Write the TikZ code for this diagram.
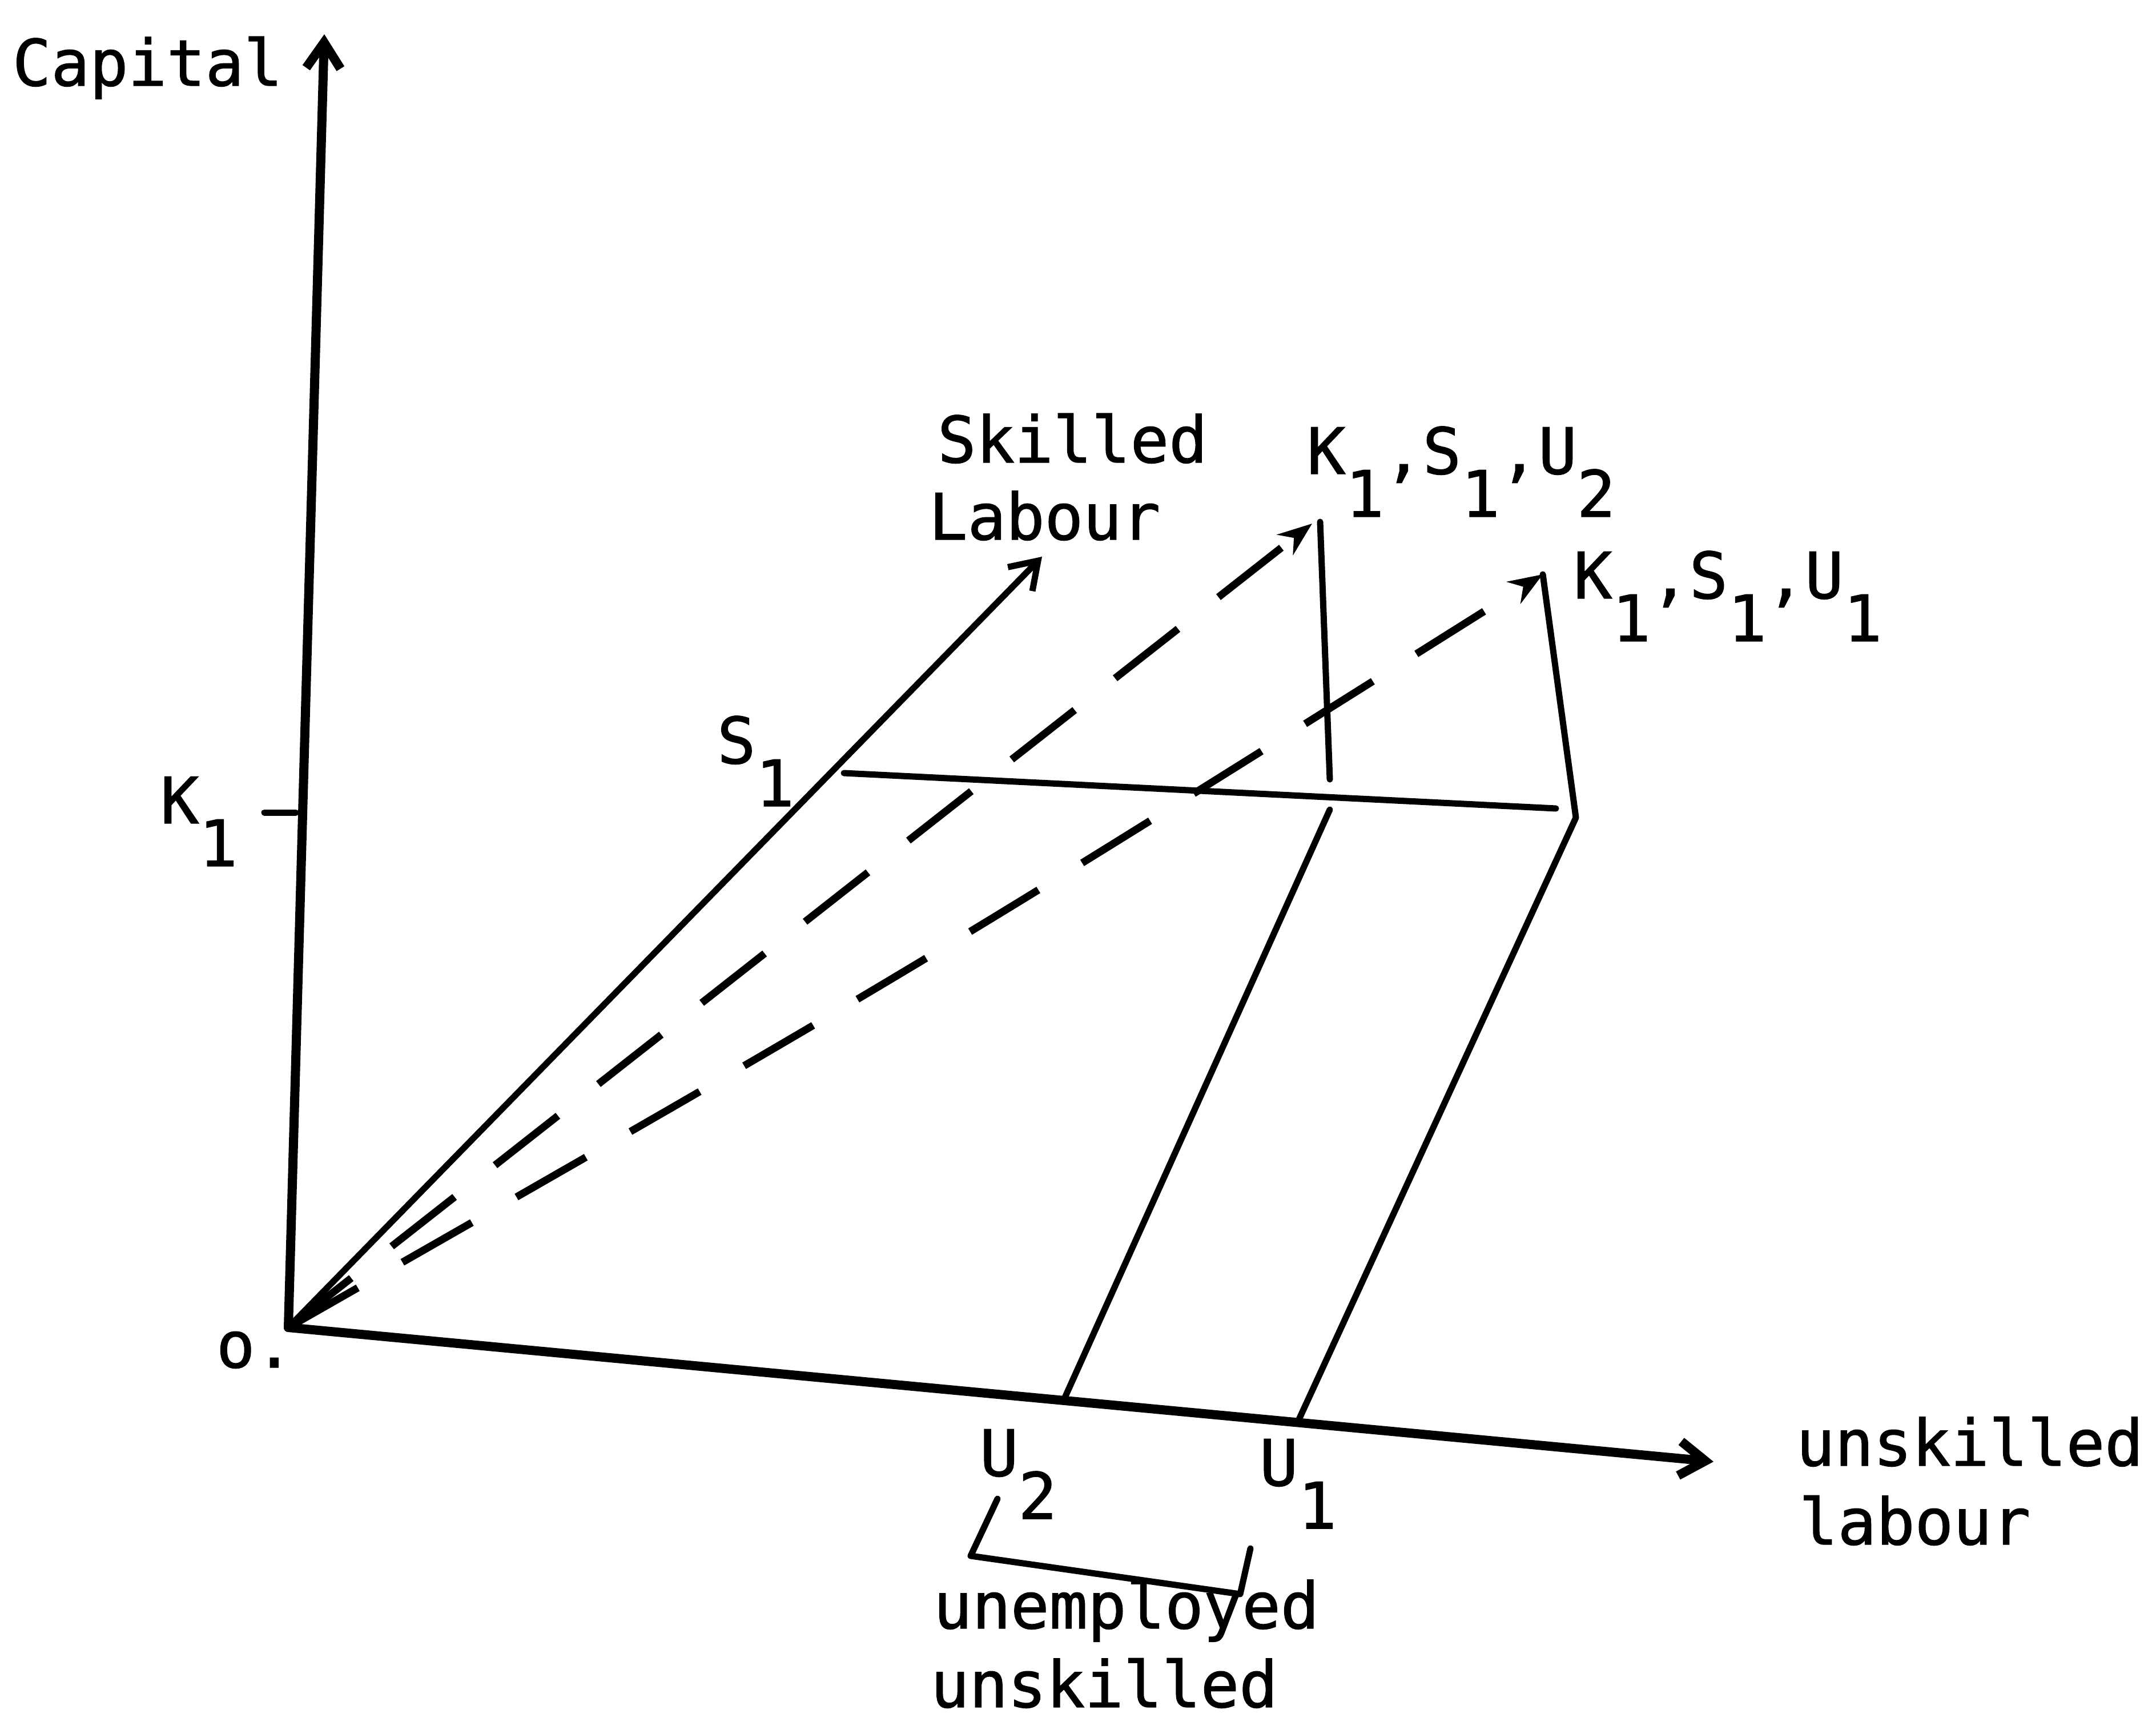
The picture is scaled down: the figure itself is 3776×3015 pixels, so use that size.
\documentclass[tikz,border=0pt]{standalone}
\usepackage{fontspec}
\setmainfont[FakeBold=1.2]{DejaVu Sans Mono}
\usetikzlibrary{arrows.meta}
\newcommand{\lowr}[1]{\raisebox{-0.75cm}{#1}}
\begin{document}
\begin{tikzpicture}[x=0.01cm,y=-0.01cm,
  lbl/.style={anchor=base west, inner sep=0pt, outer sep=0pt, font=\fontsize{31.9pt}{38.4pt}\selectfont},
  axisln/.style={line width=0.16cm, line cap=round, line join=round},
  thinln/.style={line width=0.11cm, line cap=round, line join=round},
  dsh/.style={line width=0.13cm, dash pattern=on 1.4cm off 0.9cm},
  barb/.style={-{Straight Barb[length=0.45cm,width=0.6cm]}},
  tipd/.style={-{Stealth[length=0.6cm,width=0.45cm]}}]
\useasboundingbox (0,0) rectangle (3776,3015);
% points
\coordinate (O) at (505,2325);
\coordinate (Ktop) at (568,60);
\coordinate (Stop) at (1825,975);
\coordinate (Uend) at (3001,2560);
\coordinate (S1) at (1478,1354);
\coordinate (Hend) at (2725,1416);
\coordinate (P2) at (2312,914);
\coordinate (P2t) at (2298,917);
\coordinate (C2a) at (2329,1365);
\coordinate (C2b) at (2329,1418);
\coordinate (U2f) at (1863,2452);
\coordinate (P1) at (2702,1006);
\coordinate (C1) at (2760,1432);
\coordinate (U1f) at (2274,2488);
\coordinate (K1a) at (463,1423);
\coordinate (K1b) at (518,1423);
\coordinate (B1) at (1747,2625);
\coordinate (B2) at (1700,2725);
\coordinate (B3) at (2172,2792);
\coordinate (B4) at (2190,2712);
\coordinate (Ctl) at (1602,1698);
% axes
\draw[axisln,barb] (O) -- (Ktop);
\draw[axisln,barb] (O) -- (Uend);
\draw[thinln,barb] (O) -- (Stop);
\draw[thinln] (K1a) -- (K1b);
% horizontal at K1,S1
\draw[thinln] (S1) -- (Hend);
% verticals and slanted lines
\draw[thinln] (P2) -- (C2a);
\draw[thinln] (C2b) -- (U2f);
\draw[thinln] (P1) -- (C1) -- (U1f);
% dashed rays
\draw[dsh,tipd] (O) -- (P2t);
\draw[dsh,tipd] (O) .. controls (Ctl) .. (P1);
% bracket
\draw[thinln] (B1) -- (B2) -- (B3) -- (B4);
% labels
\node[lbl] (cap) at (22,150) {Capital};
\node[lbl] (k1) at (281,1442) {K\lowr{1}};
\node[lbl] (orig) at (379,2395) {o.};
\node[lbl] (skl1) at (1642,810) {Skilled};
\node[lbl] (skl2) at (1627,945) {Labour};
\node[lbl] (lab2) at (2289,830) {K\lowr{1},S\lowr{1},U\lowr{2}};
\node[lbl] (lab1) at (2756,1048) {K\lowr{1},S\lowr{1},U\lowr{1}};
\node[lbl] (s1l) at (1256,1337) {S\lowr{1}};
\node[lbl] (u2l) at (1716,2585) {U\lowr{2}};
\node[lbl] (u1l) at (2206,2602) {U\lowr{1}};
\node[lbl] (ul1) at (3146,2567) {unskilled};
\node[lbl] (ul2) at (3151,2705) {labour};
\node[lbl] (un1) at (1635,2852) {unemployed};
\node[lbl] (un2) at (1630,2990) {unskilled};
\end{tikzpicture}
\end{document}
